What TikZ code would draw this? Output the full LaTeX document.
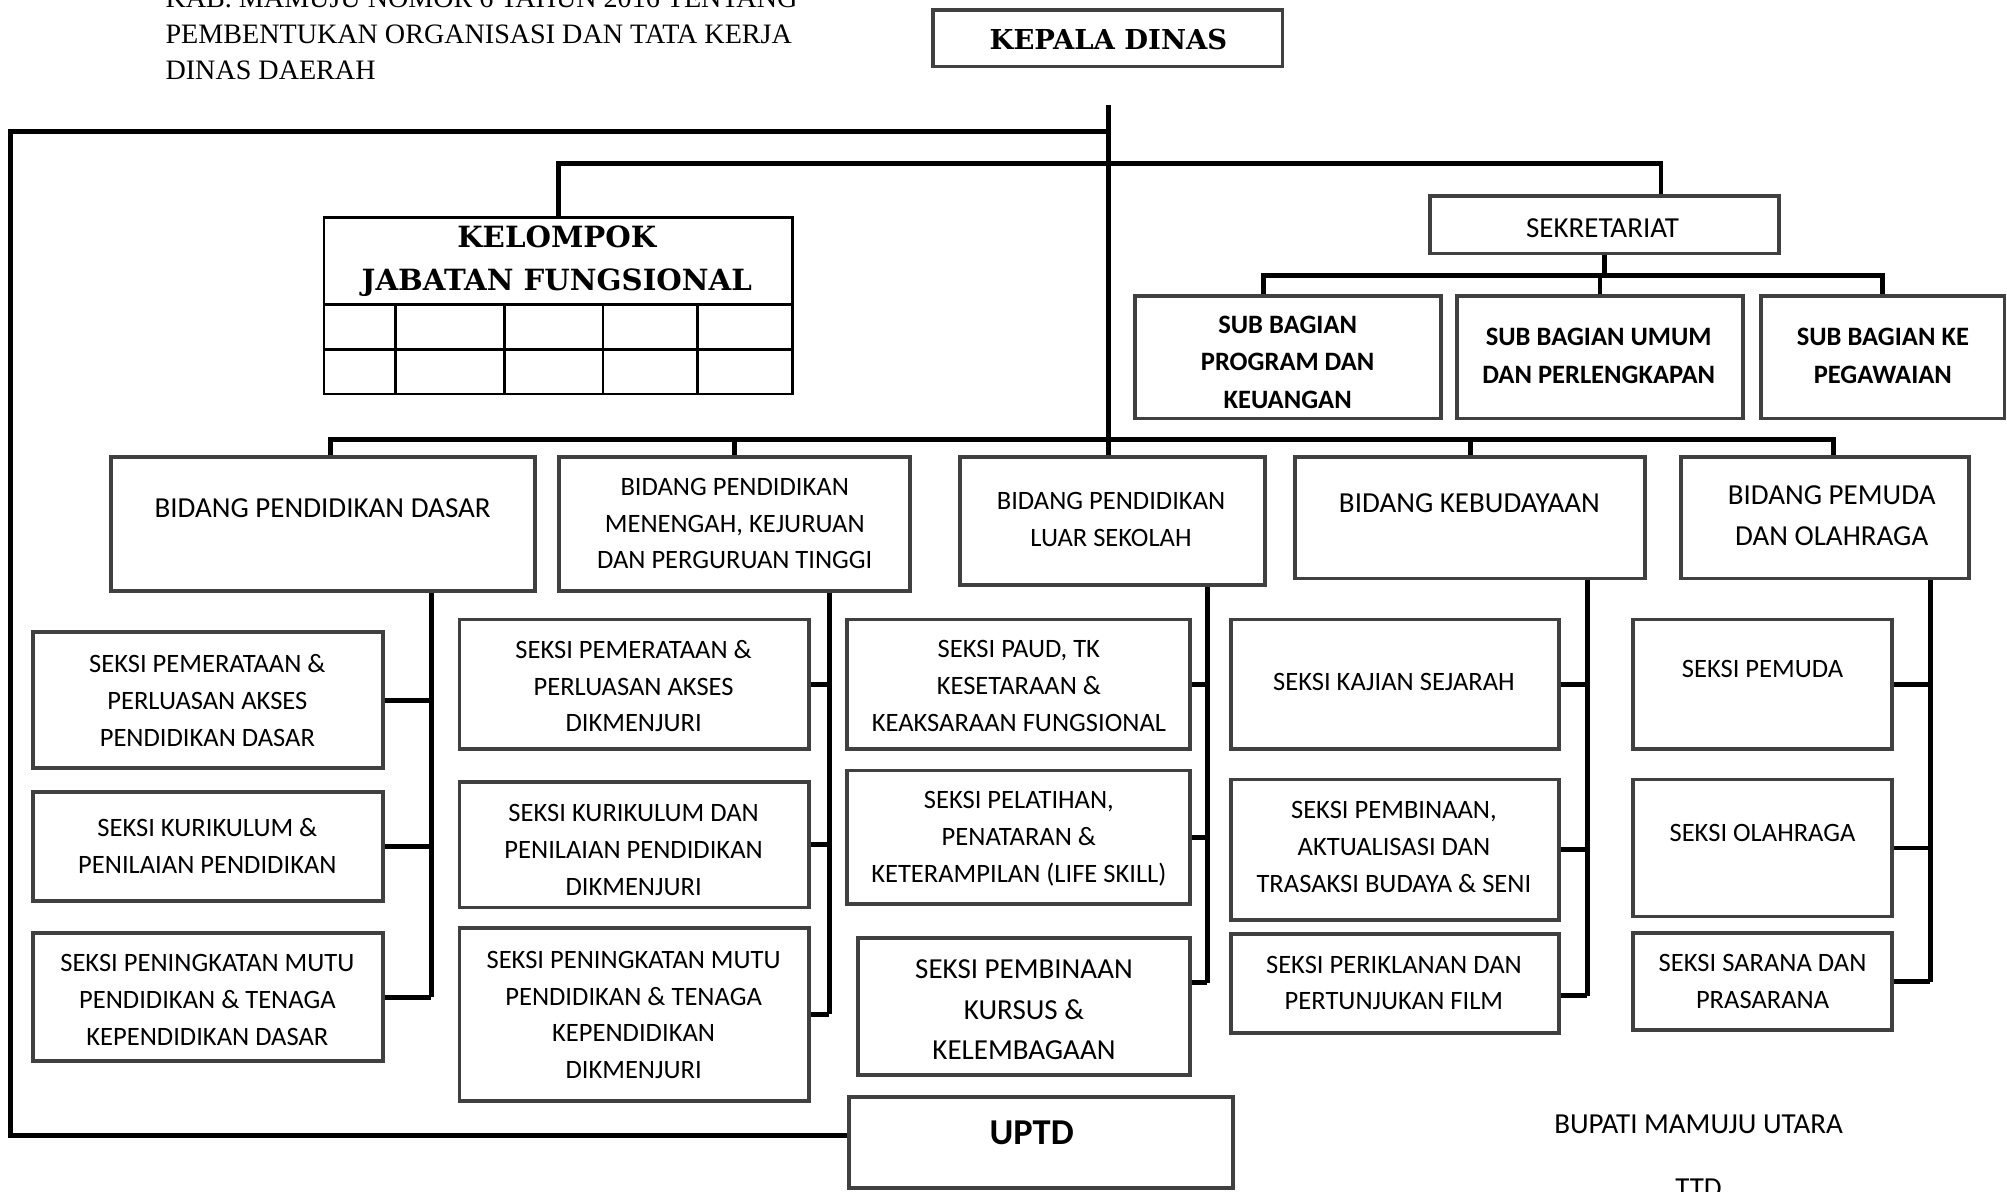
\documentclass[tikz,border=0pt]{standalone}
\usepackage{fontspec}
\setmainfont{Carlito}
\newfontfamily\serifbold{DejaVu Serif}
\newfontfamily\serifhdr{Liberation Serif}
\usetikzlibrary{fit,calc}
\definecolor{boxgray}{HTML}{404040}
\tikzset{
  obox/.style={draw=boxgray, line width=1.7pt, inner sep=0pt},
  cline/.style={draw=black, line width=2.2pt},
  tsm/.style={align=center, inner sep=0pt, font=\fontsize{11.8}{16.4}\selectfont},
  tbg/.style={align=center, inner sep=0pt, font=\fontsize{12.9}{18.1}\selectfont},
  tsb/.style={align=center, inner sep=0pt, font=\bfseries\fontsize{11.8}{16.6}\selectfont},
}
\begin{document}
\begin{tikzpicture}[x=0.02cm, y=-0.02cm]
\clip (0,0) rectangle (1568,931);
\fill[white] (0,0) rectangle (1568,931);

% header text (top left)
\node[anchor=north west, align=left, inner sep=0pt, font=\serifhdr\fontsize{12.5}{15.9}\selectfont] (hdr) at (129,-9)
  {KAB. MAMUJU NOMOR 6 TAHUN 2016 TENTANG\\PEMBENTUKAN ORGANISASI DAN TATA KERJA\\DINAS DAERAH};

% KEPALA DINAS
\node[obox, fit={(729,8) (1002,52)}] (kd) {};
\node[inner sep=0pt, font=\serifbold\bfseries\fontsize{12.2}{14}\selectfont] (kdt) at (866,31) {KEPALA DINAS};

% KELOMPOK JABATAN FUNGSIONAL table
\node[draw=black, line width=1.1pt, inner sep=0pt, fit={(253,170) (619,308)}] (kjf) {};
\draw[black, line width=1.1pt] (253,238) -- (619,238) (253,273) -- (619,273);
\foreach \cx in {309,394,471,545} { \draw[black, line width=1.1pt] (\cx,238) -- (\cx,308); }
\node[align=center, inner sep=0pt, font=\serifbold\bfseries\fontsize{13}{19.3}\selectfont] (kjft) at (435,204) {KELOMPOK\\JABATAN FUNGSIONAL};

% SEKRETARIAT and sub bagian
\node[obox, fit={(1117,153) (1390,198)}] (sek) {};
\node[tbg] (sekt) at (1252,178) {SEKRETARIAT};
\node[obox, fit={(887,231) (1126,327)}] (sub1) {};
\node[tsb] (sub1t) at (1006,283) {SUB BAGIAN\\PROGRAM DAN\\KEUANGAN};
\node[obox, fit={(1138,231) (1362,327)}] (sub2) {};
\node[tsb] (sub2t) at (1249,278) {SUB BAGIAN UMUM\\DAN PERLENGKAPAN};
\node[obox, fit={(1376,231) (1566,327)}] (sub3) {};
\node[tsb] (sub3t) at (1471,278) {SUB BAGIAN KE\\PEGAWAIAN};

% Bidang boxes
\node[obox, fit={(87,357) (418,462)}] (b1) {};
\node[tbg] (b1t) at (252,397) {BIDANG PENDIDIKAN DASAR};
\node[obox, fit={(437,357) (711,462)}] (b2) {};
\node[tsm] (b2t) at (574,409) {BIDANG PENDIDIKAN\\MENENGAH, KEJURUAN\\DAN PERGURUAN TINGGI};
\node[obox, fit={(750,357) (988,457)}] (b3) {};
\node[tsm] (b3t) at (868,406) {BIDANG PENDIDIKAN\\LUAR SEKOLAH};
\node[obox, fit={(1012,357) (1285,452)}] (b4) {};
\node[tbg] (b4t) at (1148,393) {BIDANG KEBUDAYAAN};
\node[obox, fit={(1313,357) (1538,452)}] (b5) {};
\node[tbg] (b5t) at (1431,403) {BIDANG PEMUDA\\DAN OLAHRAGA};

% Column 1
\node[obox, fit={(26,494) (299,600)}] (s1a) {};
\node[tsm] (s1at) at (162,547) {SEKSI PEMERATAAN \&\\PERLUASAN AKSES\\PENDIDIKAN DASAR};
\node[obox, fit={(26,619) (299,704)}] (s1b) {};
\node[tsm] (s1bt) at (162,661) {SEKSI KURIKULUM \&\\PENILAIAN PENDIDIKAN};
\node[obox, fit={(26,729) (299,829)}] (s1c) {};
\node[tsm] (s1ct) at (162,781) {SEKSI PENINGKATAN MUTU\\PENDIDIKAN \& TENAGA\\KEPENDIDIKAN DASAR};

% Column 2
\node[obox, fit={(359,484) (632,585)}] (s2a) {};
\node[tsm] (s2at) at (495,536) {SEKSI PEMERATAAN \&\\PERLUASAN AKSES\\DIKMENJURI};
\node[obox, fit={(359,611) (632,709)}] (s2b) {};
\node[tsm] (s2bt) at (495,664) {SEKSI KURIKULUM DAN\\PENILAIAN PENDIDIKAN\\DIKMENJURI};
\node[obox, fit={(359,725) (632,860)}] (s2c) {};
\node[tsm] (s2ct) at (495,793) {SEKSI PENINGKATAN MUTU\\PENDIDIKAN \& TENAGA\\KEPENDIDIKAN\\DIKMENJURI};

% Column 3
\node[obox, fit={(662,484) (930,585)}] (s3a) {};
\node[tsm] (s3at) at (796,536) {SEKSI PAUD, TK\\KESETARAAN \&\\KEAKSARAAN FUNGSIONAL};
\node[obox, fit={(662,602) (930,706)}] (s3b) {};
\node[tsm] (s3bt) at (796,655) {SEKSI PELATIHAN,\\PENATARAN \&\\KETERAMPILAN (LIFE SKILL)};
\node[obox, fit={(670,733) (930,840)}] (s3c) {};
\node[tbg] (s3ct) at (800,789) {SEKSI PEMBINAAN\\KURSUS \&\\KELEMBAGAAN};

% UPTD
\node[obox, fit={(663,857) (963,928)}] (uptd) {};
\node[inner sep=0pt, font=\bfseries\fontsize{16.2}{19}\selectfont] (uptdt) at (806,885) {UPTD};

% Column 4
\node[obox, fit={(962,484) (1218,585)}] (s4a) {};
\node[tsm] (s4at) at (1089,533) {SEKSI KAJIAN SEJARAH};
\node[obox, fit={(962,609) (1218,719)}] (s4b) {};
\node[tsm] (s4bt) at (1089,662) {SEKSI PEMBINAAN,\\AKTUALISASI DAN\\TRASAKSI BUDAYA \& SENI};
\node[obox, fit={(962,730) (1218,807)}] (s4c) {};
\node[tsm] (s4ct) at (1089,768) {SEKSI PERIKLANAN DAN\\PERTUNJUKAN FILM};

% Column 5
\node[obox, fit={(1276,484) (1478,585)}] (s5a) {};
\node[tsm] (s5at) at (1377,523) {SEKSI PEMUDA};
\node[obox, fit={(1276,609) (1478,716)}] (s5b) {};
\node[tsm] (s5bt) at (1377,651) {SEKSI OLAHRAGA};
\node[obox, fit={(1276,729) (1478,805)}] (s5c) {};
\node[tsm] (s5ct) at (1377,767) {SEKSI SARANA DAN\\PRASARANA};

% Signature text
\node[tbg] (bup) at (1327,878) {BUPATI MAMUJU UTARA};
\node[tbg] (ttd) at (1327,928) {TTD};

% ---------------- connectors ----------------
\coordinate (trunktop) at (866,82);
\coordinate (lt) at (8,103);
\coordinate (lb) at (8,887);
\coordinate (bar1) at (0,128);
\coordinate (bar2) at (0,215);
\coordinate (bar3) at (0,343);
\coordinate (bus1) at (337,0);
\coordinate (bus2) at (648,0);
\coordinate (bus3) at (943,0);
\coordinate (bus4) at (1240,0);
\coordinate (bus5) at (1508,0);
\coordinate (sekin) at ($(sek.north west)!0.66!(sek.north east)$);
\coordinate (sub1in) at ($(sub1.north west)!0.42!(sub1.north east)$);
\coordinate (b1in) at ($(b1.north west)!0.517!(b1.north east)$);
\coordinate (b5in) at ($(b5.north west)!0.529!(b5.north east)$);
\coordinate (s3cin) at ($(s3c.north east)!0.33!(s3c.south east)$);
\coordinate (s4cin) at ($(s4c.north east)!0.62!(s4c.south east)$);

% trunk from Kepala Dinas
\draw[cline] (trunktop) -- (trunktop |- b3.north);
% left loop to UPTD
\draw[cline] (lt -| trunktop) -- (lt) -- (lb) -- (lb -| uptd.west);
% Kelompok - Sekretariat bar
\draw[cline] (kjf.north) -- (kjf.north |- bar1) -- (sekin |- bar1) -- (sekin);
% Sekretariat to sub bagian
\draw[cline] (sek.south) -- (sek.south |- bar2);
\draw[cline] (sub1in) -- (sub1in |- bar2) -- (sub3.north |- bar2) -- (sub3.north);
\draw[cline] (sub2.north |- bar2) -- (sub2.north);
% Bidang bar
\draw[cline] (b1in) -- (b1in |- bar3) -- (b5in |- bar3) -- (b5in);
\draw[cline] (b2.north |- bar3) -- (b2.north);
\draw[cline] (b4.north |- bar3) -- (b4.north);
% column buses
\draw[cline] (b1.south -| bus1) -- (s1c.east -| bus1);
\draw[cline] (s1a.east) -- (s1a.east -| bus1);
\draw[cline] (s1b.east) -- (s1b.east -| bus1);
\draw[cline] (s1c.east) -- (s1c.east -| bus1);

\draw[cline] (b2.south -| bus2) -- (s2c.east -| bus2);
\draw[cline] (s2a.east) -- (s2a.east -| bus2);
\draw[cline] (s2b.east) -- (s2b.east -| bus2);
\draw[cline] (s2c.east) -- (s2c.east -| bus2);

\draw[cline] (b3.south -| bus3) -- (s3cin -| bus3);
\draw[cline] (s3a.east) -- (s3a.east -| bus3);
\draw[cline] (s3b.east) -- (s3b.east -| bus3);
\draw[cline] (s3cin) -- (s3cin -| bus3);

\draw[cline] (b4.south -| bus4) -- (s4cin -| bus4);
\draw[cline] (s4a.east) -- (s4a.east -| bus4);
\draw[cline] (s4b.east) -- (s4b.east -| bus4);
\draw[cline] (s4cin) -- (s4cin -| bus4);

\draw[cline] (b5.south -| bus5) -- (s5c.east -| bus5);
\draw[cline] (s5a.east) -- (s5a.east -| bus5);
\draw[cline] (s5b.east) -- (s5b.east -| bus5);
\draw[cline] (s5c.east) -- (s5c.east -| bus5);
\end{tikzpicture}
\end{document}
